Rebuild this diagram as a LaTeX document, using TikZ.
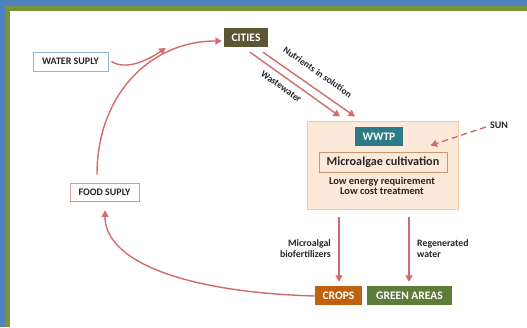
\documentclass[tikz,border=0pt]{standalone}
\usepackage{fontspec}
\setmainfont{Carlito}
\usetikzlibrary{arrows.meta,calc}
\definecolor{frameblue}{HTML}{4F81BD}
\definecolor{framegreen}{HTML}{77933C}
\definecolor{arrowred}{HTML}{D46A6A}
\definecolor{cityfill}{HTML}{5A5533}
\definecolor{wwtpfill}{HTML}{2B7B88}
\definecolor{peach}{HTML}{FDE9DA}
\definecolor{peachline}{HTML}{F6C9A6}
\definecolor{microline}{HTML}{C49A6C}
\definecolor{cropfill}{HTML}{BF610F}
\definecolor{greenfill}{HTML}{5F7B39}
\definecolor{waterline}{HTML}{95B3D7}
\definecolor{foodline}{HTML}{D99594}
\definecolor{txt}{HTML}{262626}
\begin{document}
\begin{tikzpicture}[x=1pt,y=-1pt,
  lbl/.style={font=\bfseries\fontsize{10.4}{11}\selectfont, text=txt, inner sep=0pt, align=center},
  solidbox/.style={draw=none, text=white, font=\bfseries\fontsize{11.5}{12}\selectfont, inner sep=0pt},
  linebox/.style={fill=white, line width=0.8pt, text=txt, font=\bfseries\fontsize{10}{11}\selectfont, inner sep=0pt},
  arr/.style={draw=arrowred, line width=1.4pt, -{Triangle[length=6.5pt,width=7pt]}},
  small/.style={font=\bfseries\fontsize{9.8}{11}\selectfont, text=txt, inner sep=0pt}
]
% frame
\fill[frameblue] (0,0) rectangle (527,327);
\fill[framegreen] (5,6) rectangle (527,327);
\fill[white] (10,11) rectangle (527,327);
\useasboundingbox (0,0) rectangle (527,327);

% nodes
\node[linebox, draw=waterline, minimum width=75pt, minimum height=19pt] (water) at (70.5,61.5) {WATER SUPLY};
\node[solidbox, fill=cityfill, minimum width=44pt, minimum height=19pt] (cities) at (246,37.5) {CITIES};
\node[linebox, draw=foodline, minimum width=69pt, minimum height=18pt] (food) at (104.5,192) {FOOD SUPLY};

\node[fill=peach, draw=peachline, line width=1pt, minimum width=151pt, minimum height=88pt, inner sep=0pt] (wwtp) at (382.5,165) {};
\node[solidbox, fill=wwtpfill, minimum width=48pt, minimum height=19pt] (wwtplabel) at (379,136.5) {WWTP};
\node[draw=microline, fill=peach, line width=1pt, minimum width=128pt, minimum height=20pt, inner sep=0pt, text=txt, font=\bfseries\fontsize{12.2}{13}\selectfont] (micro) at (383,162) {Microalgae cultivation};
\node[lbl] (low) at (382,186) {Low energy requirement\\[-1.5pt]Low cost treatment};

\node[lbl, font=\bfseries\fontsize{10}{11}\selectfont] (sun) at (499,125) {SUN};

\node[solidbox, fill=cropfill, minimum width=47pt, minimum height=19pt] (crops) at (338.5,295.5) {CROPS};
\node[solidbox, fill=greenfill, minimum width=85pt, minimum height=19pt] (green) at (409.5,295.5) {GREEN AREAS};

% connectors
\draw[arr] ($(water.east)+(3,0)$) .. controls (125,70) and (145,62) .. ($(cities.west)+(-58,10.5)$);
\draw[arr] ($(food.north)+(-7.5,-8)$) .. controls (97,95) and (150,41) .. ($(cities.west)+(-2,3.5)$);
\draw[arr] ($(crops.west)+(0,0.5)$) .. controls (180,292) and (105,260) .. ($(food.south)+(0.5,9)$);

\draw[arr] ($(cities.south)+(4,5)$) -- ($(wwtp.north)+(-42.5,-4)$)
  node[pos=0.41, sloped, below=6pt, small, font=\bfseries\fontsize{9.5}{11}\selectfont] (wastelbl) {Wastewater};
\draw[arr] ($(cities.south)+(17,5)$) -- ($(wwtp.north)+(-27.5,-4)$)
  node[pos=0.5, sloped, above=11pt, small, font=\bfseries\fontsize{9.5}{11}\selectfont] (nutrlbl) {Nutrients in solution};

\draw[arr, dashed, dash pattern=on 6pt off 4pt] ($(sun.west)+(-4,2)$) -- ($(micro.north east)+(-17,-6)$);

\draw[arr] ($(wwtp.south)+(-43.5,7)$) -- ($(crops.north)+(0.5,-4)$);
\draw[arr] ($(wwtp.south)+(26.5,7)$) -- ($(green.north)+(-0.5,-4)$);

\node[small, align=right, anchor=east] (biofert) at (331,248.5) {Microalgal\\biofertilizers};
\node[small, align=left, anchor=west] (regen) at (417,248.5) {Regenerated\\water};
\end{tikzpicture}
\end{document}
